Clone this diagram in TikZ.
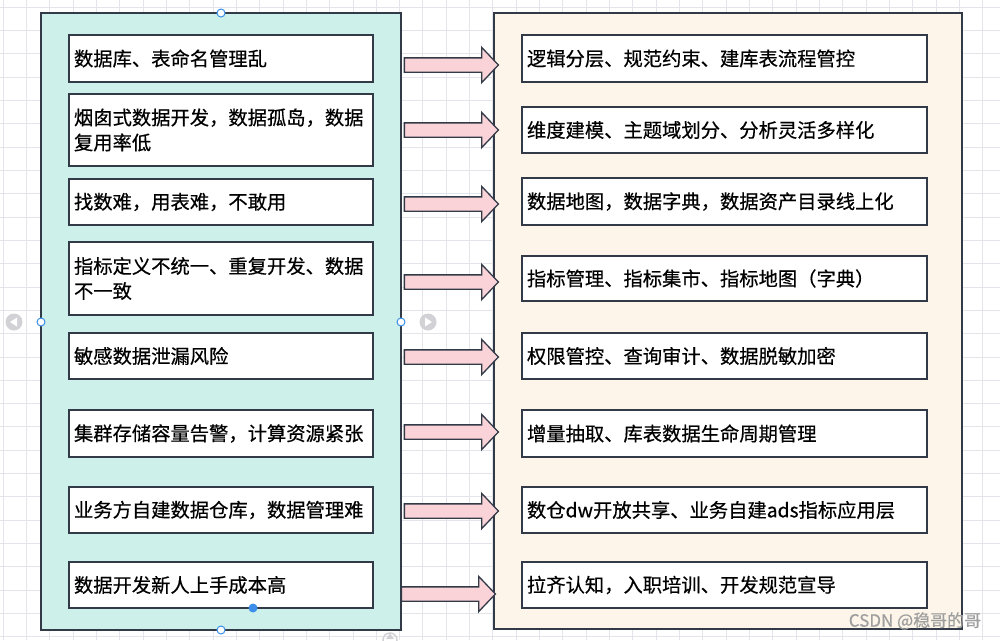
\documentclass[tikz,border=0pt]{standalone}
\usepackage{fontspec}
\setmainfont{Noto Sans CJK SC}[FakeBold=0.5]
\usetikzlibrary{shapes.arrows}
\definecolor{linecol}{HTML}{323A48}
\definecolor{gridcol}{HTML}{E4E4EA}
\definecolor{leftbg}{HTML}{CDF0EA}
\definecolor{rightbg}{HTML}{FDF5E9}
\definecolor{arrpink}{HTML}{F9D3D8}
\definecolor{handlecol}{HTML}{3B8FE8}
\definecolor{navgray}{HTML}{D2D2D6}
\begin{document}
\begin{tikzpicture}[x=1pt,y=-1pt,
    lbox/.style={draw=linecol,line width=1.3pt,fill=white,minimum width=304pt,text width=294pt,inner xsep=5pt,align=left,font=\fontsize{19.3}{25}\selectfont},
    rbox/.style={lbox,minimum width=405pt,text width=395pt},
    bigarr/.style={single arrow,draw=linecol,line width=1.3pt,fill=arrpink,inner xsep=0pt,inner ysep=6.5pt,minimum height=94pt,single arrow head extend=10.5pt,single arrow tip angle=93},
    handle/.style={draw=handlecol,fill=white,line width=1pt}]
    \fill[white] (0,0) rectangle (1000,640);%底色
    \useasboundingbox (0,0) rectangle (1000,640);
    \foreach \i in {0,...,42} \draw[gridcol,line width=0.9pt] ({3+23.33*\i},0) -- ({3+23.33*\i},640);%竖向网格
    \foreach \j in {0,...,27} \draw[gridcol,line width=0.9pt] (0,{7+23.33*\j}) -- (1000,{7+23.33*\j});%横向网格
    \draw[linecol,line width=1.3pt,fill=leftbg] (41,13) rectangle (401,630);%左侧:问题
    \draw[linecol,line width=1.3pt,fill=rightbg] (494,13) rectangle (962,629);%右侧:方案
    % 左侧问题
    \node[lbox,minimum height=47pt] (p1) at (221,58.5) {数据库、表命名管理乱};
    \node[lbox,minimum height=72pt] (p2) at (221,130) {烟囱式数据开发，数据孤岛，数据\\复用率低};
    \node[lbox,minimum height=46pt] (p3) at (221,202) {找数难，用表难，不敢用};
    \node[lbox,minimum height=73pt] (p4) at (221,278.5) {指标定义不统一、重复开发、数据\\不一致};
    \node[lbox,minimum height=46pt] (p5) at (221,356) {敏感数据泄漏风险};
    \node[lbox,minimum height=47pt] (p6) at (221,433.5) {集群存储容量告警，计算资源紧张};
    \node[lbox,minimum height=46pt] (p7) at (221,510) {业务方自建数据仓库，数据管理难};
    \node[lbox,minimum height=46pt] (p8) at (221,585) {数据开发新人上手成本高};
    % 右侧方案
    \node[rbox,minimum height=47pt] (s1) at (724.5,58.5) {逻辑分层、规范约束、建库表流程管控};
    \node[rbox,minimum height=46pt] (s2) at (724.5,130) {维度建模、主题域划分、分析灵活多样化};
    \node[rbox,minimum height=47pt] (s3) at (724.5,201.5) {数据地图，数据字典，数据资产目录线上化};
    \node[rbox,minimum height=45pt] (s4) at (724.5,278.5) {指标管理、指标集市、指标地图（字典）};
    \node[rbox,minimum height=46pt] (s5) at (724.5,356) {权限管控、查询审计、数据脱敏加密};
    \node[rbox,minimum height=47pt] (s6) at (724.5,433.5) {增量抽取、库表数据生命周期管理};
    \node[rbox,minimum height=46pt] (s7) at (724.5,510) {数仓dw开放共享、业务自建ads指标应用层};
    \node[rbox,minimum height=46pt] (s8) at (724.5,585) {拉齐认知，入职培训、开发规范宣导};
    % 箭头
    \node[bigarr] (a1) at (448,65) {};
    \node[bigarr] (a2) at (448,130) {};
    \node[bigarr] (a3) at (448,204) {};
    \node[bigarr] (a4) at (448,282) {};
    \node[bigarr] (a5) at (448,357) {};
    \node[bigarr] (a6) at (448,432) {};
    \node[bigarr] (a7) at (448,511) {};
    \node[bigarr] (a8) at (445,594) {};
    % 编辑器控制点
    \draw[handle] (221,13) circle (4);
    \draw[handle] (221,630) circle (4);
    \draw[handle] (41,322) circle (4);
    \draw[handle] (401,322) circle (4);
    \fill[handlecol] (253,608) circle (4.5);
    \fill[navgray] (14,322) circle (8.5);
    \fill[white] (10,322) -- (17,317.5) -- (17,326.5) -- cycle;
    \fill[navgray] (428,322) circle (8.5);
    \fill[white] (432,322) -- (425,317.5) -- (425,326.5) -- cycle;
    \draw[navgray,line width=1.5pt] (390,640) circle (7);
    \fill[navgray] (390,633.5) -- (394,639) -- (386,639) -- cycle;
    \node[text=gray!75,font=\fontsize{17}{20}\selectfont,inner sep=0pt] (wm) at (915,621) {CSDN @稳哥的哥};
\end{tikzpicture}
\end{document}
